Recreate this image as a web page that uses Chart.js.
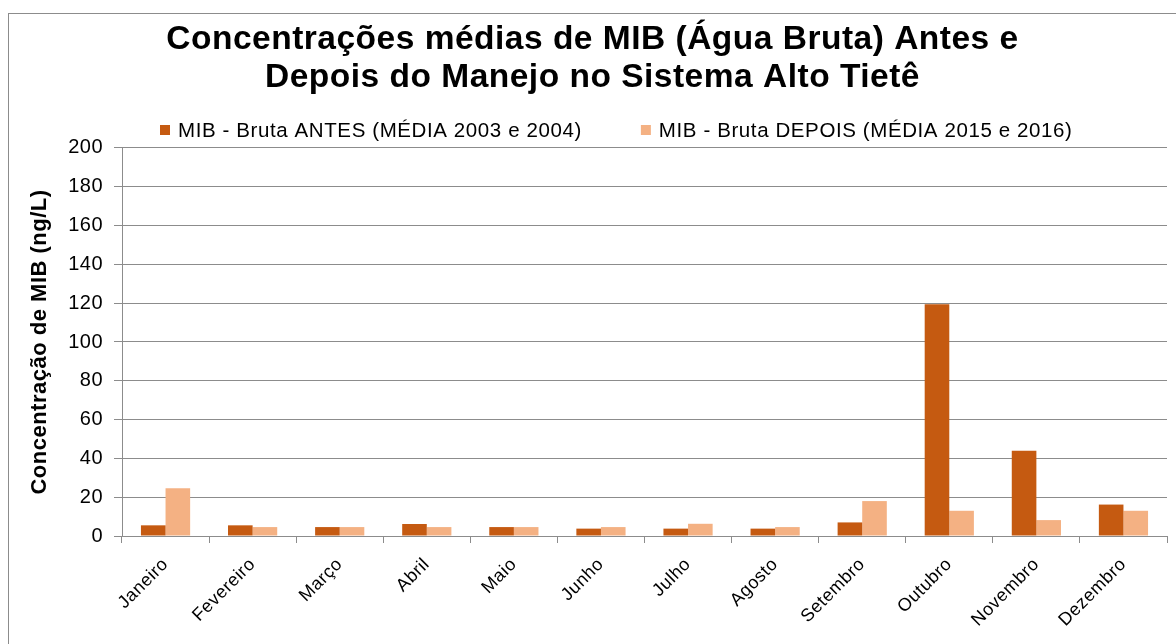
<!DOCTYPE html>
<html>
<head>
<meta charset="utf-8">
<script src="https://cdn.jsdelivr.net/npm/chart.js@4/dist/chart.umd.min.js"></script>
<style>
  body { margin: 0; background: #fff; overflow: hidden; }
  #box { position: absolute; left: 8px; top: 13px; width: 1200px; height: 640px; border: 1px solid #8c8c8c; }
  #wrap { position: absolute; left: 0; top: 0; width: 1167px; height: 630px; }
</style>
</head>
<body>
<div id="box"><div id="wrap"><canvas id="myChart"></canvas></div></div>
<script>
// months and mean MIB values (ng/L)
const meses = ["Janeiro", "Fevereiro", "Março", "Abril", "Maio", "Junho",
  "Julho", "Agosto", "Setembro", "Outubro", "Novembro", "Dezembro"];
const antes = [5.5, 5.5, 4.6, 6.2, 4.6, 3.8, 3.8, 3.8, 7, 119.5, 44, 16.2];
const depois = [24.6, 4.6, 4.6, 4.6, 4.6, 4.6, 6.3, 4.6, 18, 13, 8.2, 13];

const fonte = "'Liberation Sans', Arial, sans-serif";

// Chart.js has no letter spacing option, so set it on the context
const espacamento = {
  id: "espacamento",
  beforeLayout(chart) { chart.ctx.letterSpacing = "0.5px"; },
  beforeDraw(chart) { chart.ctx.letterSpacing = "0.5px"; },
};

// legend drawn by hand: Excel puts a wide gap between the two items
const legenda = {
  id: "legenda",
  afterDraw(chart) {
    const c = chart.ctx;
    c.save();
    c.letterSpacing = "0.6px";
    c.font = "20.5px " + fonte;
    c.textBaseline = "middle";
    const y = 130 - 14;
    let x = chart.chartArea.left + 38;
    chart.data.datasets.forEach((ds) => {
      c.fillStyle = ds.backgroundColor;
      c.fillRect(x, y - 5, 10, 10);
      c.fillStyle = "#000";
      c.fillText(ds.label, x + 18, y + 1);
      x += 18 + c.measureText(ds.label).width + 59;
    });
    c.restore();
  },
};

const ctx = document.getElementById("myChart").getContext("2d");
new Chart(ctx, {
  type: "bar",
  data: {
    labels: meses,
    datasets: [
      {
        label: "MIB - Bruta ANTES (MÉDIA 2003 e 2004)",
        data: antes,
        backgroundColor: "#C55A11",
        categoryPercentage: 0.565,
        barPercentage: 1,
      },
      {
        label: "MIB - Bruta DEPOIS (MÉDIA 2015 e 2016)",
        data: depois,
        backgroundColor: "#F4B183",
        categoryPercentage: 0.565,
        barPercentage: 1,
      },
    ],
  },
  options: {
    responsive: true,
    maintainAspectRatio: false,
    animation: false,
    layout: { padding: 0 },
    scales: {
      x: {
        grid: { display: true, drawOnChartArea: false, offset: true, tickLength: 7, color: "#8c8c8c" },
        border: { color: "#8c8c8c", width: 1 },
        ticks: { color: "#000", font: { family: fonte, size: 18 }, minRotation: 45, maxRotation: 45, padding: 11 },
        afterFit: (s) => { s.height = 108; },
      },
      y: {
        min: 0,
        max: 200,
        ticks: { stepSize: 20, color: "#000", font: { family: fonte, size: 20 }, padding: 11 },
        grid: { color: "#8c8c8c", tickLength: 8 },
        border: { color: "#8c8c8c", width: 1 },
        title: {
          display: true,
          text: "Concentração de MIB (ng/L)",
          color: "#000",
          font: { family: fonte, size: 22, weight: "bold" },
          padding: { top: 18, bottom: 0 },
        },
        afterFit: (s) => { s.width = 113; },
      },
      // small empty margin on the right of the plot
      vazio: {
        position: "right",
        min: 0,
        max: 1,
        ticks: { display: false },
        grid: { display: false },
        border: { display: false },
        afterFit: (s) => { s.width = 9; },
      },
    },
    plugins: {
      title: {
        display: true,
        text: ["Concentrações médias de MIB (Água Bruta) Antes e", "Depois do Manejo no Sistema Alto Tietê"],
        color: "#000",
        font: { family: fonte, size: 33.5, weight: "bold", lineHeight: 1.134 },
        padding: { top: 7, bottom: 51 },
      },
      legend: { display: false },
      tooltip: { enabled: false },
    },
  },
  plugins: [espacamento, legenda],
});
</script>
</body>
</html>
